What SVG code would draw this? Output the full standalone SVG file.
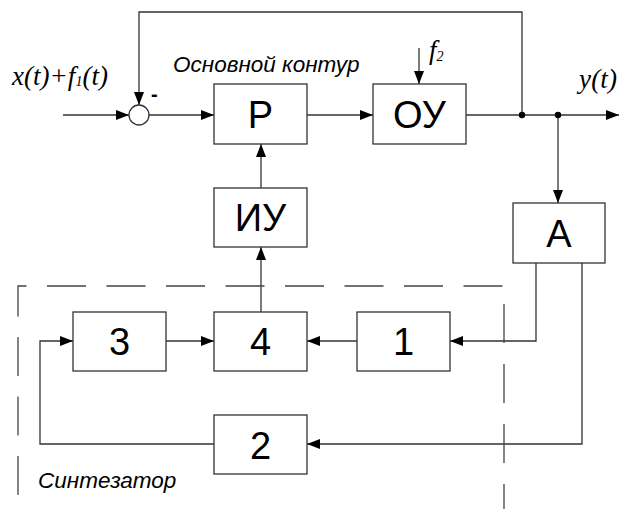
<svg xmlns="http://www.w3.org/2000/svg" width="620" height="509" viewBox="0 0 620 509">
<style>
.box{fill:#fff;stroke:#333;stroke-width:1.3}
.ln{fill:none;stroke:#333;stroke-width:1.3}
.dash{fill:none;stroke:#444;stroke-width:1.3;stroke-dasharray:39 20.5}
.lbl{font-family:"Liberation Sans",Arial,sans-serif;font-size:38px;text-anchor:middle;fill:#000}
.it{font-family:"Liberation Sans",Arial,sans-serif;font-style:italic;font-size:22.5px;fill:#000}
.ser{font-family:"Liberation Serif","Times New Roman",serif;font-style:italic;font-size:27px;fill:#000}
</style>
<defs>
<marker id="ah" markerWidth="13" markerHeight="10" refX="13" refY="5" orient="auto" markerUnits="userSpaceOnUse">
<path d="M0,0 L13,5 L0,10 Z" fill="#000"/>
</marker>
</defs>
<g id="connectors">
<path class="ln" d="M63,115 H129" marker-end="url(#ah)"/>
<path class="ln" d="M149,115 H214" marker-end="url(#ah)"/>
<path class="ln" d="M307,115 H373" marker-end="url(#ah)"/>
<path class="ln" d="M466,115 H619" marker-end="url(#ah)"/>
<path class="ln" d="M522,115 V12 H139 V105" marker-end="url(#ah)"/>
<path class="ln" d="M419,48 V84" marker-end="url(#ah)"/>
<path class="ln" d="M558,115 V203" marker-end="url(#ah)"/>
<path class="ln" d="M261,188 V144" marker-end="url(#ah)"/>
<path class="ln" d="M261,312 V247" marker-end="url(#ah)"/>
<path class="ln" d="M536,263 V341 H450" marker-end="url(#ah)"/>
<path class="ln" d="M582,263 V444 H307" marker-end="url(#ah)"/>
<path class="ln" d="M357,341 H307" marker-end="url(#ah)"/>
<path class="ln" d="M166,341 H214" marker-end="url(#ah)"/>
<path class="ln" d="M214,444 H40 V341 H73" marker-end="url(#ah)"/>
<circle cx="522" cy="115" r="3.2" fill="#000"/>
<circle cx="558" cy="115" r="3.2" fill="#000"/>
</g>
<g id="sum">
<circle cx="139" cy="115" r="10" fill="#fff" stroke="#333" stroke-width="1.3"/>
<text x="151" y="101" style="font-family:'Liberation Sans',Arial,sans-serif;font-size:20px;font-weight:bold">-</text>
</g>
<g id="P"><rect class="box" x="214" y="84" width="93" height="60"/><text class="lbl" x="260.5" y="128">Р</text></g>
<g id="OU"><rect class="box" x="373" y="84" width="93" height="60"/><text class="lbl" x="419.5" y="128">ОУ</text></g>
<g id="IU"><rect class="box" x="214" y="188" width="93" height="59"/><text class="lbl" x="260.5" y="231">ИУ</text></g>
<g id="A"><rect class="box" x="513" y="203" width="92" height="60"/><text class="lbl" x="559" y="247">А</text></g>
<g id="b3"><rect class="box" x="73" y="312" width="93" height="59"/><text class="lbl" x="119.5" y="355">3</text></g>
<g id="b4"><rect class="box" x="214" y="312" width="93" height="59"/><text class="lbl" x="260.5" y="355">4</text></g>
<g id="b1"><rect class="box" x="357" y="312" width="93" height="59"/><text class="lbl" x="403.5" y="355">1</text></g>
<g id="b2"><rect class="box" x="214" y="415" width="93" height="59"/><text class="lbl" x="260.5" y="459">2</text></g>
<g id="synth">
<path class="dash" d="M18,495 V286 H503"/>
<path class="dash" d="M504,304 V509" style="stroke-dasharray:39 21"/>
<text class="it" x="38" y="488">Синтезатор</text>
</g>
<g id="labels">
<text class="it" x="173" y="72">Основной контур</text>
<text class="ser" x="12" y="85" textLength="96" lengthAdjust="spacing">x(t)+f<tspan font-size="14" dy="1">1</tspan><tspan dy="-1">(t)</tspan></text>
<text class="ser" x="429" y="59" font-size="24">f<tspan font-size="14" dy="2">2</tspan></text>
<text class="ser" x="579" y="88" textLength="38" lengthAdjust="spacing">y(t)</text>
</g>
</svg>
